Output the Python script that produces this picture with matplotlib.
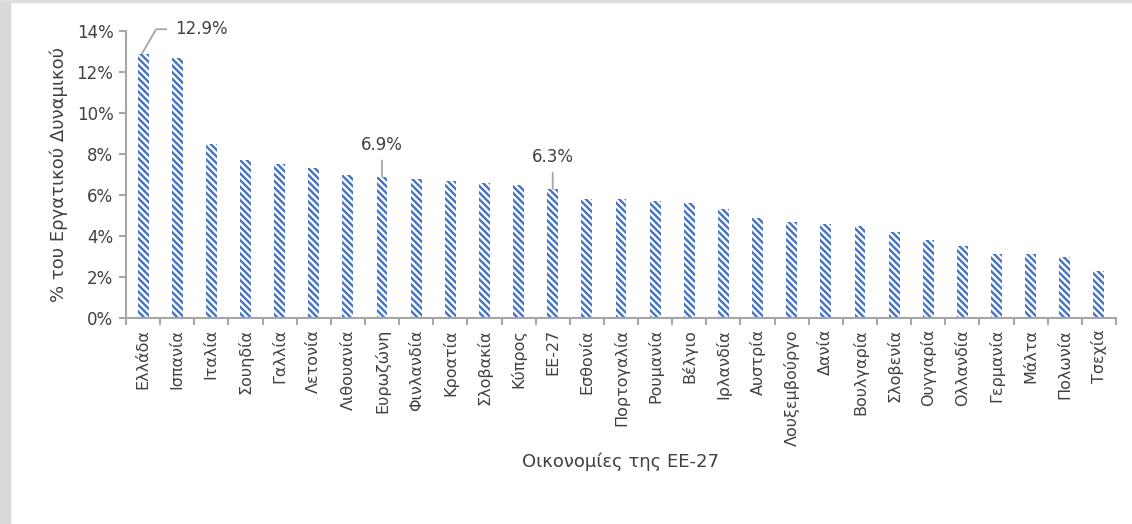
import matplotlib
matplotlib.use('Agg')
import matplotlib.pyplot as plt
from matplotlib.patches import Rectangle
from matplotlib.ticker import FuncFormatter, MultipleLocator

countries = ['Ελλάδα', 'Ισπανία', 'Ιταλία', 'Σουηδία', 'Γαλλία', 'Λετονία',
             'Λιθουανία', 'Ευρωζώνη', 'Φινλανδία', 'Κροατία', 'Σλοβακία',
             'Κύπρος', 'ΕΕ-27', 'Εσθονία', 'Πορτογαλία', 'Ρουμανία', 'Βέλγιο',
             'Ιρλανδία', 'Αυστρία', 'Λουξεμβούργο', 'Δανία', 'Βουλγαρία',
             'Σλοβενία', 'Ουγγαρία', 'Ολλανδία', 'Γερμανία', 'Μάλτα',
             'Πολωνία', 'Τσεχία']
rates = [12.9, 12.7, 8.5, 7.7, 7.5, 7.3, 7.0, 6.9, 6.8, 6.7, 6.6, 6.5, 6.3,
         5.8, 5.8, 5.7, 5.6, 5.3, 4.9, 4.7, 4.6, 4.5, 4.2, 3.8, 3.5, 3.1,
         3.1, 3.0, 2.3]
labelled = ['Ελλάδα', 'Ευρωζώνη', 'ΕΕ-27']

plt.rcParams['font.family'] = ['DejaVu Sans']
plt.rcParams['hatch.linewidth'] = 1.7
text_color = '#404040'
blue = '#4472C4'
axis_grey = '#a6a6a6'

fig = plt.figure(figsize=(11.32, 5.24), dpi=100)
# grey frame strips of the original page
fig.patches.append(Rectangle((0, 0), 10 / 1132, 1, transform=fig.transFigure,
                             color='#d9d9d9', zorder=-1))
fig.patches.append(Rectangle((0, 1 - 2 / 524), 1, 2 / 524, transform=fig.transFigure,
                             color='#dedede', zorder=-1))

ax = fig.add_axes([126 / 1132, 1 - 318 / 524, 990 / 1132, 287 / 524])
x = list(range(len(countries)))
ax.bar(x, rates, width=0.32, facecolor='white', edgecolor=blue, linewidth=0,
       hatch='\\' * 5)

ax.set_xlim(-0.5, len(countries) - 0.5)
ax.set_ylim(0, 14)
ax.yaxis.set_major_locator(MultipleLocator(2))
ax.yaxis.set_major_formatter(FuncFormatter(lambda v, p: '%d%%' % v))
ax.set_xticks(x)
ax.set_xticklabels(countries, rotation=90)
ax.set_xticks([i - 0.5 for i in range(len(countries) + 1)], minor=True)
ax.tick_params(axis='x', which='major', length=0, pad=8, labelsize=11.5,
               labelcolor=text_color)
ax.tick_params(axis='x', which='minor', length=5, color=axis_grey, width=1.5)
ax.tick_params(axis='y', length=5, color=axis_grey, width=1.5, labelsize=12,
               labelcolor=text_color, pad=4)
for side in ['top', 'right']:
    ax.spines[side].set_visible(False)
for side in ['left', 'bottom']:
    ax.spines[side].set_color(axis_grey)
    ax.spines[side].set_linewidth(1.5)

ax.set_ylabel('% του Εργατικού Δυναμικού', fontsize=13, color=text_color,
              labelpad=6)
ax.set_xlabel('Οικονομίες της ΕΕ-27', fontsize=13, color=text_color,
              labelpad=5)

for name in labelled:
    i = countries.index(name)
    v = rates[i]
    label = '%.1f%%' % v
    if i == 0:
        ax.annotate(label, xy=(i - 0.03, v), xytext=(24, 17.5),
                    textcoords='offset points',
                    fontsize=12, color=text_color, va='center', ha='left',
                    arrowprops=dict(arrowstyle='-', color=axis_grey, lw=1.3,
                                    connectionstyle='angle,angleA=0,angleB=60,rad=0',
                                    shrinkA=4.5, shrinkB=0))
    else:
        ax.annotate(label, xy=(i, v), xytext=(0, 23),
                    textcoords='offset points',
                    fontsize=12, color=text_color, va='center', ha='center',
                    arrowprops=dict(arrowstyle='-', color=axis_grey, lw=1.3,
                                    shrinkA=3, shrinkB=0))

fig.savefig('out.png', dpi=100)
